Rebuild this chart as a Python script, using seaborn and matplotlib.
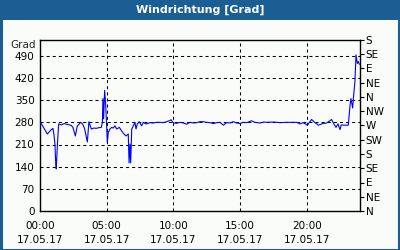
import matplotlib
matplotlib.use("Agg")
import matplotlib.pyplot as plt
from matplotlib.patches import Rectangle
import seaborn as sns
import pandas as pd

# ---- data ----
hours = [0.0, 0.25, 0.55, 0.8, 0.97, 1.05, 1.12, 1.18, 1.22, 1.3, 1.4, 1.6, 1.8, 2.0,
         2.2, 2.35, 2.47, 2.65, 2.8, 2.95, 3.05, 3.2, 3.35, 3.55, 3.67, 3.85, 4.05, 4.22,
         4.4, 4.6, 4.68, 4.72, 4.77, 4.85, 4.92, 4.98, 5.05, 5.12, 5.25, 5.37, 5.5, 5.62,
         5.75, 5.95, 6.12, 6.3, 6.45, 6.62, 6.68, 6.75, 6.8, 6.88, 7.0, 7.12, 7.2, 7.3,
         7.45, 7.62, 7.75, 7.9, 8.0, 8.25, 8.5, 8.75, 9.0, 9.25, 9.5, 9.7, 9.83, 10.0,
         10.25, 10.5, 10.75, 11.0, 11.25, 11.5, 11.75, 12.0, 12.25, 12.5, 12.75, 13.0,
         13.25, 13.5, 13.75, 14.0, 14.25, 14.5, 14.75, 15.0, 15.25, 15.5, 15.87, 16.1,
         16.5, 16.8, 17.0, 17.5, 18.0, 18.5, 19.0, 19.25, 19.5, 19.75, 20.05, 20.37,
         20.6, 20.87, 21.2, 21.5, 21.87, 22.0, 22.2, 22.35, 22.5, 22.6, 22.75, 23.12,
         23.25, 23.32, 23.45, 23.5, 23.62, 23.7, 23.8, 23.87, 23.95]
direction = [282, 265, 243, 255, 261, 240, 211, 150, 133, 205, 275, 272, 276, 274,
             272, 270, 264, 237, 269, 275, 280, 275, 259, 218, 282, 259, 262, 261,
             263, 264, 280, 355, 291, 381, 340, 285, 216, 248, 259, 264, 262, 269,
             259, 264, 253, 243, 237, 243, 152, 211, 152, 259, 269, 280, 259, 275,
             282, 269, 280, 276, 275, 279, 278, 280, 280, 279, 282, 285, 288, 278,
             277, 280, 278, 274, 280, 278, 279, 282, 282, 280, 279, 276,
             279, 280, 271, 279, 278, 282, 278, 276, 280, 279, 285, 280,
             278, 281, 280, 281, 279, 280, 280, 280, 275, 279, 271, 289,
             280, 271, 276, 278, 289, 278, 264, 275, 257, 272, 271, 271,
             333, 355, 325, 355, 408, 493, 466, 472, 463]

left_ticks = [0, 70, 140, 210, 280, 350, 420, 490]
right_ticks = [0, 45, 90, 135, 180, 225, 270, 315, 360, 405, 450, 495, 540]
right_labels = ["N", "NE", "E", "SE", "S", "SW", "W", "NW", "N", "NE", "E", "SE", "S"]
x_major = [0, 5, 10, 15, 20]
x_labels = ["00:00\n17.05.17", "05:00\n17.05.17", "10:00\n17.05.17",
            "15:00\n17.05.17", "20:00\n17.05.17"]
title = "Windrichtung [Grad]"
unit = "Grad"

# ---- style ----
sns.set_style("white")
plt.rcParams["font.family"] = ["DejaVu Sans"]
plt.rcParams["lines.scale_dashes"] = False

BLUE = "#1b5e93"
BG = "#f9fcf9"
FS = 7.5

fig = plt.figure(figsize=(4, 2.5), dpi=100)
fig.patch.set_facecolor(BG)

ax = fig.add_axes([40/400, (250-211)/250, 320/400, (211-40)/250])
ax.set_facecolor(BG)

df = pd.DataFrame({"h": hours, "v": direction})
sns.lineplot(data=df, x="h", y="v", ax=ax, color="#0000ff", linewidth=0.8, zorder=3)

ax.set_xlim(0, 24)
ax.set_ylim(0, 540)
ax.set_xlabel("")
ax.set_ylabel("")

ax.set_yticks(left_ticks)
ax.set_yticklabels([str(t) for t in left_ticks], fontsize=FS)
ax.set_xticks(x_major)
ax.set_xticklabels(x_labels, fontsize=FS, linespacing=1.55)
ax.set_xticks(range(0, 25), minor=True)
ax.tick_params(axis="y", which="both", length=0, pad=4, colors="black")
ax.tick_params(axis="x", which="both", direction="in", length=3, width=0.8,
               pad=7, colors="black", top=False)

for y in left_ticks[1:]:
    ax.axhline(y, color="black", linewidth=0.75, linestyle=(0, (2.2, 2.2)), zorder=1)
for x in x_major[1:]:
    ax.axvline(x, color="black", linewidth=0.75, linestyle=(0, (2.2, 2.2)), zorder=1)

for s in ax.spines.values():
    s.set_visible(True)
    s.set_color("black")
    s.set_linewidth(1.0)

ax2 = ax.twinx()
ax2.set_ylim(0, 540)
ax2.set_yticks(right_ticks)
ax2.set_yticklabels(right_labels, fontsize=FS)
ax2.tick_params(axis="y", direction="out", length=3, width=0.8, pad=1, colors="black")
for s in ax2.spines.values():
    s.set_visible(False)

fig.text(36/400, 1 - 45/250, unit, ha="right", va="center", fontsize=FS)

# title bar and border
fig.patches.append(Rectangle((0, 1 - 20/250), 1, 20/250, transform=fig.transFigure,
                             facecolor=BLUE, edgecolor="none", zorder=0))
fig.patches.append(Rectangle((0.5/400, 0.5/250), 1 - 2/400, 1 - 2/250, transform=fig.transFigure,
                             facecolor="none", edgecolor=BLUE, linewidth=2.2, zorder=5))
fig.text(0.5, 1 - 10/250, title, ha="center", va="center", color="white",
         fontsize=8, fontweight="bold")

fig.savefig("out.png", dpi=100, facecolor=BG)
